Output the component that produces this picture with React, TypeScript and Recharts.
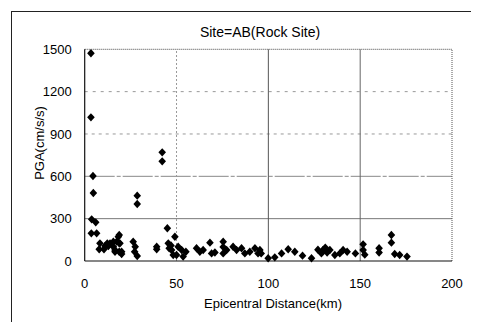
import React from 'react';
import { ScatterChart, Scatter, XAxis, YAxis, ReferenceLine } from 'recharts';

// Epicentral distance (km)
const distance = [
  3.4, 3.4, 4.5, 4.7, 3.8, 6.0, 3.6, 6.5,
  28.6, 28.6, 42.2, 42.2,
  8.3, 7.9, 10.5, 12.3, 13.8, 15.6, 16.5, 17.4, 18.8, 18.8, 18.8, 20.1,
  11.1, 12.9, 15.6, 18.3, 19.2, 16.5, 20.1,
  26.4, 27.5, 27.2, 28.6, 39.2, 39.2,
  45.0, 45.5, 47.3, 49.1, 48.2, 50.9, 50.0, 52.8, 55.1, 53.6, 47.0, 46.0,
  60.9, 62.7, 64.5, 68.2, 69.1, 70.9, 75.4, 75.4, 77.3, 75.4, 80.8, 82.7,
  85.4, 87.2, 89.9, 92.7, 94.4, 95.4, 99.9, 96.1,
  103.5, 107.2, 110.8, 114.4, 118.6, 123.5, 128.9, 129.8, 131.0, 133.5,
  136.2, 138.9, 140.7, 142.9, 147.4, 127.0, 132.0,
  151.6, 151.6, 152.5, 160.3, 160.3, 167.0, 167.0, 168.8, 171.5, 175.5,
];

// Peak ground acceleration (cm/s/s)
const pga = [
  1472, 1018, 602, 482, 295, 274, 196, 196,
  463, 404, 770, 706,
  125, 83, 83, 125, 125, 101, 66, 137, 184, 125, 66, 50,
  106, 106, 137, 172, 125, 78, 66,
  137, 101, 66, 35, 83, 101,
  232, 125, 78, 172, 42, 101, 42, 78, 66, 31, 110, 90,
  90, 66, 78, 130, 54, 60, 137, 54, 78, 100, 101, 78,
  90, 54, 66, 90, 54, 78, 19, 54,
  26, 54, 83, 66, 38, 19, 54, 78, 95, 78,
  42, 54, 78, 66, 54, 80, 60,
  118, 78, 45, 90, 60, 184, 130, 50, 42, 31,
];

const xTicks = [0, 50, 100, 150, 200];
const yTicks = [0, 300, 600, 900, 1200, 1500];

const chartTitle = 'Site=AB(Rock Site)';
const xTitle = 'Epicentral Distance(km)';
const yTitle = 'PGA(cm/s/s)';

const data = distance.map((d, i) => ({ x: d, y: pga[i] }));

const FONT = '"Liberation Sans", Arial, Helvetica, sans-serif';

const Diamond = (props: any) => {
  const { cx, cy } = props;
  if (cx == null || cy == null) return null;
  return (
    <path
      d={`M${cx},${cy - 4.2}L${cx + 3.8},${cy}L${cx},${cy + 4.2}L${cx - 3.8},${cy}Z`}
      fill="#000"
    />
  );
};

export default function App() {
  return (
    <div style={{ position: 'relative', width: 471, height: 314, fontFamily: FONT, color: '#000' }}>
      <div
        style={{
          position: 'absolute',
          left: 3,
          top: 3,
          width: 470,
          height: 313,
          borderLeft: '1.5px solid #222',
          borderTop: '1.5px solid #222',
          boxSizing: 'border-box',
        }}
      />
      <div
        style={{
          position: 'absolute',
          left: 252,
          top: 24,
          transform: 'translate(-50%, -50%)',
          fontSize: 14,
          whiteSpace: 'nowrap',
        }}
      >
        {chartTitle}
      </div>
      <div
        style={{
          position: 'absolute',
          left: 265,
          top: 295,
          transform: 'translate(-50%, -50%)',
          fontSize: 13,
          whiteSpace: 'nowrap',
        }}
      >
        {xTitle}
      </div>
      <div
        style={{
          position: 'absolute',
          left: 31,
          top: 135,
          transform: 'translate(-50%, -50%) rotate(-90deg)',
          fontSize: 13,
          whiteSpace: 'nowrap',
        }}
      >
        {yTitle}
      </div>
      <div style={{ position: 'absolute', left: 0, top: 0 }}>
        <ScatterChart
          width={471}
          height={314}
          margin={{ top: 41.3, right: 27, bottom: 31, left: 26.7 }}
        >
          <XAxis
            type="number"
            dataKey="x"
            domain={[0, 200]}
            ticks={xTicks}
            interval={0}
            height={30}
            tickSize={0}
            tickMargin={18}
            axisLine={{ stroke: '#111', strokeWidth: 1.2 }}
            tick={{ fill: '#000', fontSize: 13, fontFamily: FONT }}
          />
          <YAxis
            type="number"
            dataKey="y"
            domain={[0, 1500]}
            ticks={yTicks}
            interval={0}
            width={50}
            tickSize={0}
            tickMargin={13}
            axisLine={{ stroke: '#111', strokeWidth: 1.2 }}
            tick={{ fill: '#000', fontSize: 13, fontFamily: FONT }}
          />
          <ReferenceLine y={300} stroke="#777" strokeWidth={1} />
          <ReferenceLine y={600} stroke="#888" strokeWidth={1} strokeDasharray="30 2 4 2" />
          <ReferenceLine y={900} stroke="#999" strokeWidth={1} strokeDasharray="3 4" />
          <ReferenceLine y={1200} stroke="#999" strokeWidth={1} strokeDasharray="3 5" />
          <ReferenceLine y={1500} stroke="#444" strokeWidth={1} strokeDasharray="1 1" />
          <ReferenceLine x={50} stroke="#999" strokeWidth={1} strokeDasharray="2 2" />
          <ReferenceLine x={100} stroke="#555" strokeWidth={1} />
          <ReferenceLine x={150} stroke="#666" strokeWidth={1} />
          <ReferenceLine x={200} stroke="#555" strokeWidth={1} strokeDasharray="1 1" />
          <Scatter data={data} shape={Diamond} isAnimationActive={false} />
        </ScatterChart>
      </div>
    </div>
  );
}
